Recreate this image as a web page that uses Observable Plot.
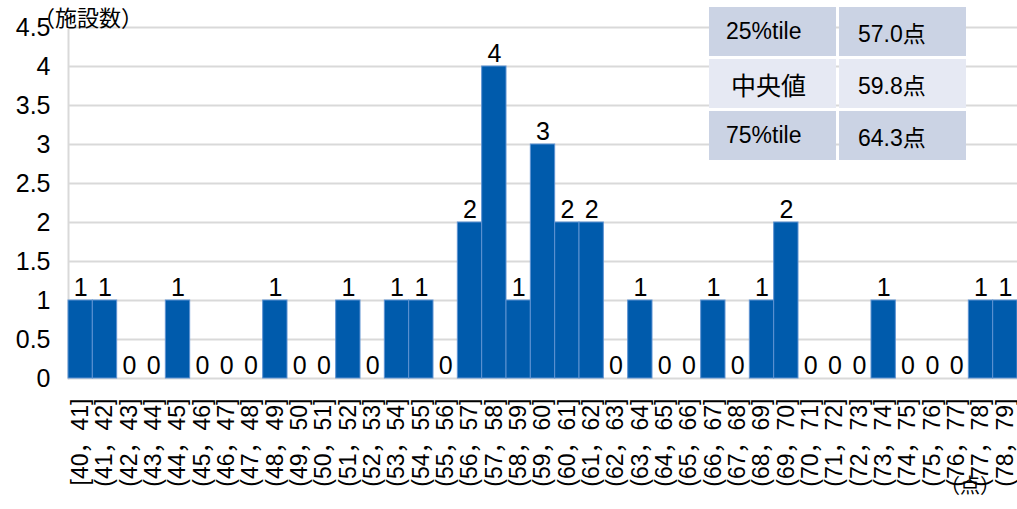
<!DOCTYPE html>
<html>
<head>
<meta charset="utf-8">
<script src="https://cdn.jsdelivr.net/npm/d3@7"></script>
<script src="https://cdn.jsdelivr.net/npm/@observablehq/plot@0.6"></script>
<style>
  body { margin: 0; background: #fff; }
  #wrap { position: relative; width: 1017px; height: 509px; overflow: hidden;
          font-family: "Liberation Sans", "Noto Sans CJK JP", sans-serif; }
  #ylab { position: absolute; left: 33px; top: 0px; font-size: 22px; color: #000;
          font-family: "Noto Sans CJK JP", sans-serif; }
  #xlab { position: absolute; left: 940px; top: 470px; font-size: 20px; color: #000;
          font-family: "Noto Sans CJK JP", sans-serif; }
  #stats { position: absolute; left: 706px; top: 4px; border-collapse: separate; border-spacing: 3px; }
  #stats td { height: 49px; padding: 0 0 0 17px; font-size: 23px; color: #000; box-sizing: border-box; }
  #stats td.c1 { width: 127px; }
  #stats td.c2 { width: 127px; padding-left: 19px; }
  #stats tr.dark td { background: #cbd3e4; }
  #stats tr.light td { background: #e6e9f3; }
  #stats td.big { font-size: 25px; font-family: "Noto Sans CJK JP", sans-serif; padding-left: 22px; }
</style>
</head>
<body>
<div id="wrap"></div>
<script>
const bins = ["[40，41]","(41，42]","(42，43]","(43，44]","(44，45]","(45，46]","(46，47]","(47，48]","(48，49]","(49，50]",
  "(50，51]","(51，52]","(52，53]","(53，54]","(54，55]","(55，56]","(56，57]","(57，58]","(58，59]","(59，60]",
  "(60，61]","(61，62]","(62，63]","(63，64]","(64，65]","(65，66]","(66，67]","(67，68]","(68，69]","(69，70]",
  "(70，71]","(71，72]","(72，73]","(73，74]","(74，75]","(75，76]","(76，77]","(77，78]","(78，79]"];
const counts = [1,1,0,0,1,0,0,0,1,0, 0,1,0,1,1,0,2,4,1,3, 2,2,0,1,0,0,1,0,1,2, 0,0,0,1,0,0,0,1,1];
const yTicks = [0,0.5,1,1.5,2,2.5,3,3.5,4,4.5];
const statLabels = ["25%tile","中央値","75%tile"];
const statValues = ["57.0点","59.8点","64.3点"];
const yTitle = "（施設数）";
const xTitle = "（点）";

const data = bins.map((b, i) => ({bin: b, count: counts[i]}));

const chart = Plot.plot({
  width: 1017,
  height: 509,
  marginLeft: 68,
  marginRight: 0,
  marginTop: 27,
  marginBottom: 131,
  style: {fontFamily: '"Liberation Sans", "Noto Sans CJK JP", sans-serif', background: "transparent", color: "#000"},
  x: {domain: bins, padding: 0, round: false},
  y: {domain: [0, 4.5]},
  marks: [
    Plot.gridY(yTicks, {stroke: "#d9d9d9", strokeOpacity: 1, strokeWidth: 2}),
    Plot.frame({anchor: "left", stroke: "#d9d9d9", strokeWidth: 2}),
    Plot.barY(data, {x: "bin", y: "count", fill: "#005bac", stroke: "#5f93d2", strokeWidth: 1}),
    Plot.text(data, {x: "bin", y: "count", text: d => String(d.count), lineAnchor: "bottom", dy: -5, fontSize: 25, fill: "#000"}),
    Plot.axisY(yTicks, {tickSize: 0, tickPadding: 18, fontSize: 25, tickFormat: d => String(d), label: null}),
    Plot.axisX({tickRotate: -90, tickSize: 0, tickPadding: 20, fontSize: 23, label: null})
  ]
});

const wrap = document.getElementById("wrap");
wrap.appendChild(chart);

const yl = document.createElement("div"); yl.id = "ylab"; yl.textContent = yTitle; wrap.appendChild(yl);
const xl = document.createElement("div"); xl.id = "xlab"; xl.textContent = xTitle; wrap.appendChild(xl);

const table = document.createElement("table"); table.id = "stats";
statLabels.forEach((lab, i) => {
  const tr = document.createElement("tr");
  tr.className = i === 1 ? "light" : "dark";
  const td1 = document.createElement("td"); td1.className = "c1" + (i === 1 ? " big" : ""); td1.textContent = lab;
  const td2 = document.createElement("td"); td2.className = "c2"; td2.textContent = statValues[i];
  tr.appendChild(td1); tr.appendChild(td2); table.appendChild(tr);
});
wrap.appendChild(table);
</script>
</body>
</html>
